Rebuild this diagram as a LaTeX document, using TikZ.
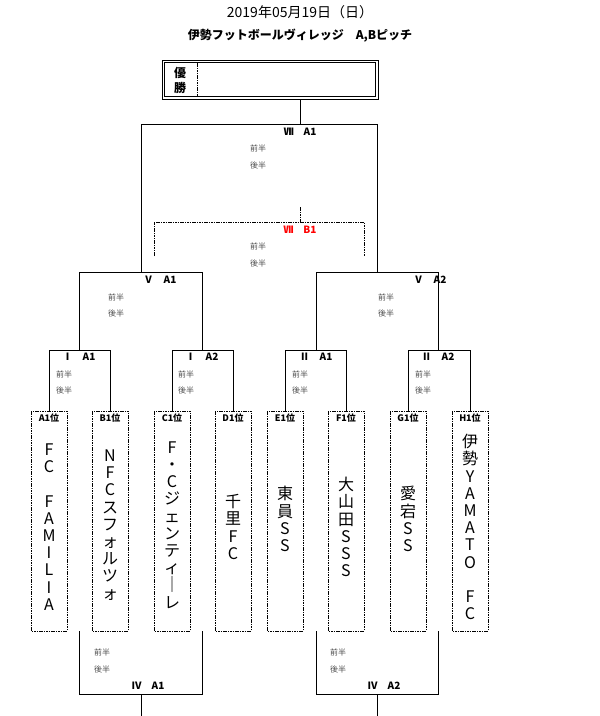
\documentclass[tikz,border=0pt]{standalone}
\usepackage{fontspec}
\setmainfont{Noto Sans CJK JP}
\begin{document}
\begin{tikzpicture}[x=1pt,y=-1pt,
  ln/.style={line width=1pt},
  dl/.style={line width=0.9pt,dash pattern=on 1.6pt off 0.8pt},
  lab/.style={font=\bfseries\fontsize{10}{11}\selectfont,inner sep=0},
  half/.style={font=\fontsize{8}{9}\selectfont,text=black!70,inner sep=0,anchor=west},
  tname/.style={align=center,font=\fontsize{16}{17.2}\selectfont,inner sep=0},
  thead/.style={font=\bfseries\fontsize{9}{10}\selectfont,inner sep=0}]
\useasboundingbox (0,0) rectangle (600,716);
\node[font=\fontsize{14}{15}\selectfont] (t1) at (300,12) {2019年05月19日（日）};
\node[font=\bfseries\fontsize{12}{13}\selectfont] (t2) at (300,36) {伊勢フットボールヴィレッジ\quad A,Bピッチ};
% champion box
\draw[line width=0.8pt] (162,60) rectangle (378,99);
\draw[line width=1.6pt] (164.5,62.5) rectangle (375.5,96.5);
\coordinate (champ) at (300,99);
\draw[dl] (197,63) -- (197,96);
\node[align=center,font=\bfseries\fontsize{12}{15}\selectfont,inner sep=0] (yu) at (180,80) {優\\勝};
% teams
\foreach \n/\x/\h in {a/49/A1位,b/110/B1位,c/172/C1位,d/233/D1位,e/285/E1位,f/346/F1位,g/408/G1位,h/470/H1位}{
  \draw[dl] (\x-18,411) rectangle (\x+18,631);
  \coordinate (\n) at (\x,411);
  \coordinate (\n b) at (\x,631);
  \node[thead] (\n h) at (\x,418) {\h};
}
\node[tname] (an) at (49,527) {F\\C\\ \\F\\A\\M\\I\\L\\I\\A};
\node[tname] (bn) at (110,525) {N\\F\\C\\ス\\フ\\ォ\\ル\\ツ\\ォ};
\node[tname] (cn) at (172,525) {F\\・\\C\\ジ\\ェ\\ン\\テ\\ィ\\｜\\レ};
\node[tname] (dn) at (233,527) {千\\里\\F\\C};
\node[tname] (en) at (285,519) {東\\員\\S\\S};
\node[tname] (fn) at (346,527) {大\\山\\田\\S\\S\\S};
\node[tname] (gn) at (408,519) {愛\\宕\\S\\S};
\node[tname] (hn) at (470,527) {伊\\勢\\Y\\A\\M\\A\\T\\O\\ \\F\\C};
% round I/II brackets
\foreach \p/\q/\m/\lt in {a/b/79/{Ⅰ\quad A1},c/d/202/{Ⅰ\quad A2},e/f/316/{Ⅱ\quad A1},g/h/438/{Ⅱ\quad A2}}{
  \draw[ln] (\p) -- ++(0,-61) -| (\q);
  \node[lab] at (\m,357) {\lt};
}
\foreach \x in {56,178,292,415}{
  \node[half] at (\x,374) {前半};
  \node[half] at (\x,390) {後半};
}
% V
\coordinate (v1) at (141,272);
\coordinate (v2) at (377,272);
\draw[ln] (79,350) -- (79,272) -- (202,272) -- (202,350);
\draw[ln] (316,350) -- (316,272) -- (438,272) -- (438,350);
\node[lab] at (160,280) {Ⅴ\quad A1};
\node[lab] at (430,280) {Ⅴ\quad A2};
\node[half] at (108,297) {前半}; \node[half] at (108,313) {後半};
\node[half] at (378,297) {前半}; \node[half] at (378,313) {後半};
% VII
\draw[ln] (v1) -- (141,124) -- (377,124) -- (v2);
\draw[ln] (champ) -- (300,124);
\node[lab] at (300,132) {Ⅶ\quad A1};
\node[half] at (250,148) {前半}; \node[half] at (250,165) {後半};
\draw[dl] (300,207) -- (300,222);
\draw[dl] (154,256) -- (154,222) -- (364,222) -- (364,256);
\node[lab,text=red] at (300,230) {Ⅶ\quad B1};
\node[half] at (250,246) {前半}; \node[half] at (250,263) {後半};
% IV
\draw[ln] (79,631) -- (79,694) -- (202,694) -- (202,631);
\draw[ln] (141,694) -- (141,716);
\draw[ln] (316,631) -- (316,694) -- (438,694) -- (438,631);
\draw[ln] (377,694) -- (377,716);
\node[lab] at (148,686) {Ⅳ\quad A1};
\node[lab] at (384,686) {Ⅳ\quad A2};
\node[half] at (94,652) {前半}; \node[half] at (94,669) {後半};
\node[half] at (330,652) {前半}; \node[half] at (330,669) {後半};
\end{tikzpicture}
\end{document}
